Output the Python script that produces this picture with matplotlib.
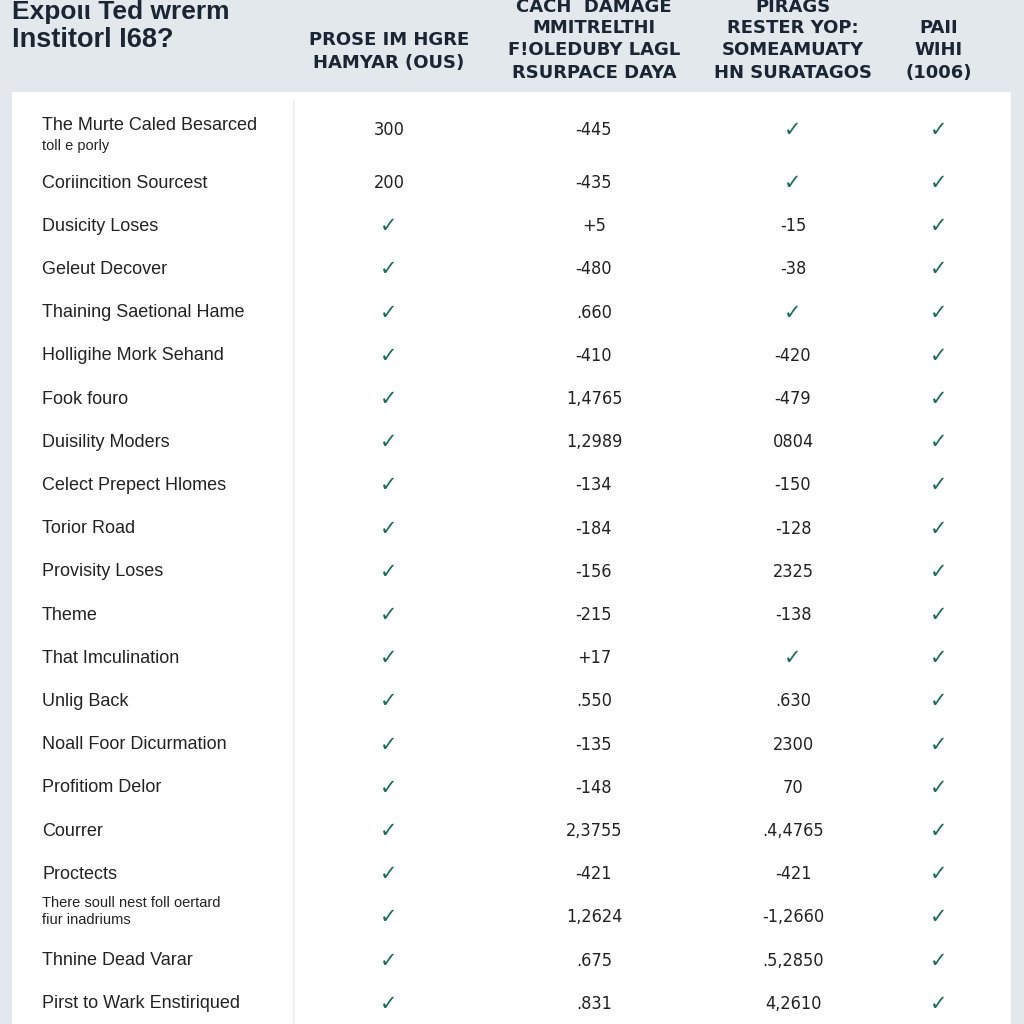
import matplotlib.pyplot as plt
from matplotlib.patches import Rectangle

CHECK = "✓"

title_lines = ["Expoιι Ted wrerm", "Institorl I68?"]

col_headers = [
    ["PROSE IM HGRE", "HAMYAR (OUS)"],
    ["CACH  DAMAGE", "MMITRELTHI", "F!OLEDUBY LAGL", "RSURPACE DAYA"],
    ["PIRAGS", "RESTER YOP:", "SOMEAMUATY", "HN SURATAGOS"],
    ["PAII", "WIHI", "(1006)"],
]

row_labels = [
    "The Murte Caled Besarced", "Coriincition Sourcest", "Dusicity Loses",
    "Geleut Decover", "Thaining Saetional Hame", "Holligihe Mork Sehand",
    "Fook fouro", "Duisility Moders", "Celect Prepect Hlomes", "Torior Road",
    "Provisity Loses", "Theme", "That Imculination", "Unlig Back",
    "Noall Foor Dicurmation", "Profitiom Delor", "Courrer", "Proctects",
    "There soull nest foll oertard", "Thnine Dead Varar",
    "Pirst to Wark Enstiriqued",
]
row_sublabels = {0: "toll e porly", 18: "fiur inadriums"}

col1 = ["300", "200"] + [CHECK] * 19
col2 = ["-445", "-435", "+5", "-480", ".660", "-410", "1,4765", "1,2989",
        "-134", "-184", "-156", "-215", "+17", ".550", "-135", "-148",
        "2,3755", "-421", "1,2624", ".675", ".831"]
col3 = [CHECK, CHECK, "-15", "-38", CHECK, "-420", "-479", "0804", "-150",
        "-128", "2325", "-138", CHECK, ".630", "2300", "70", ".4,4765",
        "-421", "-1,2660", ".5,2850", "4,2610"]
col4 = [CHECK] * 21

columns = [col1, col2, col3, col4]

# layout
col_x = [389, 594, 793, 939]
bg = "#e3e8ec"
hdr_color = "#1c2533"
txt_color = "#222222"
chk_color = "#1d6b5a"
lab_font = ["Liberation Sans", "DejaVu Sans"]

fig = plt.figure(figsize=(10.24, 10.24), dpi=100, facecolor=bg)
ax = fig.add_axes([0, 0, 1, 1])
ax.set_xlim(0, 1024)
ax.set_ylim(1024, 0)
ax.axis("off")

ax.add_patch(Rectangle((12, 92), 999, 940, facecolor="white", edgecolor="none"))
ax.plot([294, 294], [100, 1024], color="#eceff2", lw=1.2)

# title
ax.text(12, 12, title_lines[0], fontsize=19, fontweight="bold", color=hdr_color,
        ha="left", va="center", family=lab_font)
ax.text(12, 40, title_lines[1], fontsize=19.5, fontweight="bold", color=hdr_color,
        ha="left", va="center", family=lab_font)

# column headers
hdr_y = {2: [40, 63], 4: [7, 28, 50, 73], 3: [28, 50, 73]}
for x, lines in zip(col_x, col_headers):
    for y, s in zip(hdr_y[len(lines)], lines):
        ax.text(x, y, s, fontsize=13, fontweight="bold", color=hdr_color,
                ha="center", va="center")

# rows
num_font = "DejaVu Sans"
for i, lab in enumerate(row_labels):
    if i == 0:
        y = 130
        ax.text(42, 126, lab, fontsize=13, color=txt_color, ha="left",
                va="center", family=lab_font)
        ax.text(42, 146, row_sublabels[i], fontsize=10.5, color=txt_color,
                ha="left", va="center", family=lab_font)
    elif i in row_sublabels:
        y = 183 + (i - 1) * 43.2
        ax.text(42, y - 14, lab, fontsize=10.5, color=txt_color, ha="left",
                va="center", family=lab_font)
        ax.text(42, y + 3, row_sublabels[i], fontsize=10.5, color=txt_color,
                ha="left", va="center", family=lab_font)
    else:
        y = 183 + (i - 1) * 43.2
        ax.text(42, y, lab, fontsize=13, color=txt_color, ha="left",
                va="center", family=lab_font)
    for x, col in zip(col_x, columns):
        v = col[i]
        if v == CHECK:
            ax.text(x, y, v, fontsize=15, color=chk_color, ha="center",
                    va="center", family="DejaVu Sans")
        else:
            ax.text(x, y, v, fontsize=13, color=txt_color, ha="center",
                    va="center", family=num_font, fontstretch="condensed")

fig.savefig("out.png", dpi=100, facecolor=bg)
